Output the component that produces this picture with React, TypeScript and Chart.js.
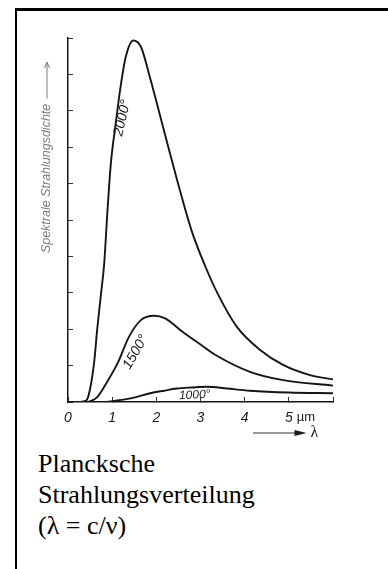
import React, { useEffect, useRef } from "react";
import { Chart, registerables } from "chart.js";

Chart.register(...registerables);

// Wavelength (µm) and spectral radiance readings for each temperature curve
const lambda2000 = [0.25, 0.4, 0.47, 0.59, 0.66, 0.74, 0.82, 0.89, 0.97, 1.08, 1.19, 1.31, 1.48, 1.65, 1.87, 2.17, 2.47, 2.8, 3.1, 3.4, 3.82, 4.35, 4.87, 5.48, 6.0];
const value2000 = [0, 0.03, 0.2, 1.07, 1.98, 2.89, 3.81, 5.18, 6.55, 7.65, 8.66, 9.49, 9.93, 9.76, 8.85, 7.47, 6.1, 4.7, 3.75, 2.95, 2.07, 1.43, 1.02, 0.74, 0.62];

const lambda1500 = [0.45, 0.65, 0.82, 1.12, 1.38, 1.65, 1.95, 2.2, 2.35, 2.6, 3.0, 3.37, 4.12, 4.87, 6.0];
const value1500 = [0, 0.12, 0.42, 1.06, 1.79, 2.25, 2.37, 2.3, 2.17, 1.92, 1.58, 1.27, 0.83, 0.6, 0.45];

const lambda1000 = [0.85, 1.42, 1.86, 2.17, 2.46, 2.81, 3.14, 3.6, 4.12, 5.0, 6.0];
const value1000 = [0, 0.1, 0.24, 0.31, 0.37, 0.4, 0.42, 0.37, 0.31, 0.26, 0.24];

const curveLabels = ["2000°", "1500°", "1000°"];
const xTickLabels = ["0", "1", "2", "3", "4", "5", ""];
const xUnit = "µm";
const xAxisSymbol = "λ";
const yAxisTitle = "Spektrale Strahlungsdichte";
const captionLines = ["Plancksche", "Strahlungsverteilung", "(λ = c/ν)"];

const toPoints = (xs: number[], ys: number[]) => xs.map((x, i) => ({ x, y: ys[i] }));

const annotations = {
  id: "annotations",
  afterDraw(chart: any) {
    const { ctx } = chart;
    const x = chart.scales.x;
    const y = chart.scales.y;
    const sans = '"Liberation Sans", Arial, sans-serif';

    const label = (text: string, lx: number, ly: number, angle: number, size: number) => {
      ctx.save();
      ctx.translate(x.getPixelForValue(lx), y.getPixelForValue(ly));
      ctx.rotate((angle * Math.PI) / 180);
      ctx.font = `italic ${size}px ${sans}`;
      ctx.fillStyle = "#1a1a1a";
      ctx.textAlign = "center";
      ctx.textBaseline = "middle";
      ctx.fillText(text, 0, 0);
      ctx.restore();
    };
    label(curveLabels[0], 1.23, 7.8, -77, 14);
    label(curveLabels[1], 1.53, 1.37, -60, 14);
    label(curveLabels[2], 2.87, 0.19, -3, 12);

    const labelY = x.top + 15.5;
    ctx.save();
    ctx.font = `13px ${sans}`;
    ctx.fillStyle = "#1a1a1a";
    ctx.textAlign = "left";
    ctx.textBaseline = "middle";
    ctx.fillText(xUnit, x.getPixelForValue(5) + 8, labelY);
    ctx.restore();

    const ay = x.top + 31;
    const ax1 = x.getPixelForValue(4.19);
    const ax2 = x.getPixelForValue(5.4);
    ctx.save();
    ctx.strokeStyle = "#333";
    ctx.fillStyle = "#1a1a1a";
    ctx.lineWidth = 1;
    ctx.beginPath();
    ctx.moveTo(ax1, ay);
    ctx.lineTo(ax2 - 10, ay);
    ctx.stroke();
    ctx.beginPath();
    ctx.moveTo(ax2 - 12, ay - 3);
    ctx.lineTo(ax2, ay);
    ctx.lineTo(ax2 - 12, ay + 3);
    ctx.closePath();
    ctx.fill();
    ctx.font = `16px "Liberation Serif", serif`;
    ctx.textAlign = "left";
    ctx.textBaseline = "middle";
    ctx.fillText(xAxisSymbol, ax2 + 4, ay);
    ctx.restore();

    ctx.save();
    const tx = x.getPixelForValue(0) - 21;
    const ty = y.getPixelForValue(4.09);
    ctx.translate(tx, ty);
    ctx.rotate(-Math.PI / 2);
    ctx.font = `italic 12.5px ${sans}`;
    ctx.fillStyle = "#7a7a7a";
    ctx.strokeStyle = "#7a7a7a";
    ctx.textAlign = "left";
    ctx.textBaseline = "middle";
    ctx.fillText(yAxisTitle, 0, 0);
    const w = ctx.measureText(yAxisTitle).width;
    const tip = ty - y.getPixelForValue(9.34);
    ctx.lineWidth = 1;
    ctx.beginPath();
    ctx.moveTo(w + 5, 0);
    ctx.lineTo(tip, 0);
    ctx.stroke();
    ctx.beginPath();
    ctx.moveTo(tip - 6, -2.5);
    ctx.lineTo(tip, 0);
    ctx.lineTo(tip - 6, 2.5);
    ctx.stroke();
    ctx.restore();
  },
};

export default function App() {
  const canvasRef = useRef<HTMLCanvasElement | null>(null);

  useEffect(() => {
    if (!canvasRef.current) return;
    const lineStyle = {
      borderColor: "#151515",
      borderWidth: 1.9,
      pointRadius: 0,
      fill: false,
      cubicInterpolationMode: "monotone" as const,
    };
    const chart = new Chart(canvasRef.current, {
      type: "line",
      data: {
        datasets: [
          { label: curveLabels[0], data: toPoints(lambda2000, value2000), ...lineStyle },
          { label: curveLabels[1], data: toPoints(lambda1500, value1500), ...lineStyle },
          { label: curveLabels[2], data: toPoints(lambda1000, value1000), ...lineStyle },
        ],
      },
      options: {
        responsive: false,
        animation: false,
        layout: { padding: { left: 0, top: 30, right: 55, bottom: 0 } },
        plugins: { legend: { display: false }, tooltip: { enabled: false } },
        scales: {
          x: {
            type: "linear",
            min: 0,
            max: 6,
            afterFit: (s: any) => {
              s.height = 42;
            },
            border: { display: true, color: "#151515", width: 1.5 },
            grid: { display: true, drawOnChartArea: false, drawTicks: true, tickLength: -5, color: "#333", lineWidth: 1 },
            ticks: {
              stepSize: 1,
              autoSkip: false,
              maxRotation: 0,
              padding: 13,
              color: "#1a1a1a",
              font: { family: '"Liberation Sans", Arial, sans-serif', size: 14, style: "italic" },
              callback: (v: any) => xTickLabels[Math.round(Number(v))] ?? "",
            },
          },
          y: {
            type: "linear",
            min: 0,
            max: 10,
            afterFit: (s: any) => {
              s.width = 60;
            },
            border: { display: true, color: "#151515", width: 1.5 },
            grid: { display: true, drawOnChartArea: false, drawTicks: true, tickLength: -5, color: "#333", lineWidth: 1 },
            ticks: { stepSize: 1, display: false },
          },
        },
      },
      plugins: [annotations],
    });
    return () => chart.destroy();
  }, []);

  return (
    <div style={{ position: "relative", width: 380, height: 553 }}>
      <div style={{ position: "fixed", left: 15, top: 8, width: 2, height: 600, background: "#000" }} />
      <div style={{ position: "fixed", left: 15, top: 8, width: 373, height: 3, background: "#000", zIndex: 5 }} />
      <canvas
        ref={canvasRef}
        width={380}
        height={436}
        style={{ position: "absolute", left: 0, top: 0, width: 380, height: 436 }}
      />
      <div
        style={{
          position: "absolute",
          left: 30,
          top: 440,
          fontFamily: '"Liberation Serif", "Times New Roman", serif',
          fontSize: 26,
          lineHeight: "31px",
          color: "#000",
          whiteSpace: "nowrap",
        }}
      >
        {captionLines.map((l, i) => (
          <div key={i}>{l}</div>
        ))}
      </div>
    </div>
  );
}
